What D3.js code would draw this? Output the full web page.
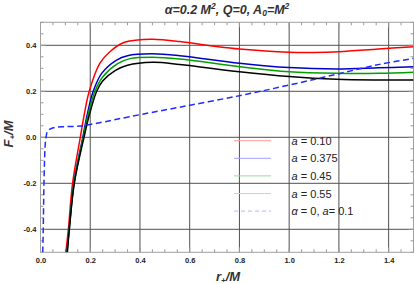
<!DOCTYPE html>
<html>
<head>
<meta charset="utf-8">
<script src="https://cdn.jsdelivr.net/npm/d3@7"></script>
<style>
  body { margin: 0; background: #fff; }
  svg { display: block; font-family: 'Liberation Sans', Arial, sans-serif; }
  .tick text { font-size: 7.5px; font-weight: bold; fill: #222; }
</style>
</head>
<body>
<script>
let labels = ['a = 0.10', 'a = 0.375', 'a = 0.45', 'a = 0.55', 'α = 0, a= 0.1']
let colors = ['#ff0000', '#0000c8', '#00a000', '#000000', '#1f2cff']
let legendColors = ['#ff9c9c', '#a3a3ff', '#9ed69e', '#cfcfcf', '#b0b4ff']

// r+ / M values and F+ / M values
let redR = [0.102, 0.112, 0.129, 0.16, 0.176, 0.196, 0.239, 0.279, 0.333, 0.39, 0.45, 0.56, 0.7, 0.8, 1.0, 1.1, 1.2, 1.36, 1.5]
let redF = [-0.5, -0.4, -0.2, 0.0, 0.1, 0.2, 0.322, 0.372, 0.411, 0.423, 0.426, 0.416, 0.396, 0.384, 0.370, 0.369, 0.372, 0.384, 0.394]

let blueR = [0.106, 0.115, 0.134, 0.170, 0.188, 0.212, 0.246, 0.306, 0.35, 0.447, 0.56, 0.8, 1.0, 1.19, 1.36, 1.5]
let blueF = [-0.5, -0.4, -0.2, 0.0, 0.1, 0.2, 0.278, 0.336, 0.355, 0.363, 0.355, 0.322, 0.303, 0.297, 0.302, 0.307]

let greenR = [0.107, 0.1155, 0.135, 0.172, 0.192, 0.219, 0.25, 0.31, 0.36, 0.45, 0.56, 0.8, 1.0, 1.19, 1.36, 1.5]
let greenF = [-0.5, -0.4, -0.2, 0.0, 0.1, 0.2, 0.262, 0.32, 0.342, 0.348, 0.340, 0.307, 0.285, 0.278, 0.278, 0.283]

let blackR = [0.108, 0.116, 0.136, 0.175, 0.197, 0.226, 0.25, 0.30, 0.35, 0.45, 0.56, 0.8, 1.0, 1.19, 1.36, 1.5]
let blackF = [-0.5, -0.4, -0.2, 0.0, 0.1, 0.2, 0.245, 0.29, 0.313, 0.326, 0.317, 0.285, 0.264, 0.252, 0.249, 0.249]

let dashR = [0.009, 0.011, 0.014, 0.018, 0.022, 0.028, 0.038, 0.058, 0.1, 0.159, 0.2, 0.26, 0.36, 0.56, 0.8, 1.0, 1.19, 1.363, 1.5]
let dashF = [-0.5, -0.4, -0.2, -0.05, 0.0, 0.025, 0.036, 0.043, 0.046, 0.049, 0.056, 0.068, 0.090, 0.131, 0.181, 0.227, 0.274, 0.317, 0.343]

let xTicks = [0.0, 0.2, 0.4, 0.6, 0.8, 1.0, 1.2, 1.4]
let yTicks = [-0.4, -0.2, 0.0, 0.2, 0.4]

let series = [
  { r: redR, f: redF },
  { r: blueR, f: blueF },
  { r: greenR, f: greenF },
  { r: blackR, f: blackF },
  { r: dashR, f: dashF, dashed: true }
]

let margins = { top: 22.3, right: 1.5, bottom: 31.7, left: 40.5 }
let W = 415, H = 284
let width = W - margins.left - margins.right
let height = H - margins.top - margins.bottom

let x = d3.scaleLinear().domain([0, 1.5]).range([0, width])
let y = d3.scaleLinear().domain([-0.5, 0.5]).range([height, 0])

let svg = d3.select('body').append('svg')
    .attr('width', W)
    .attr('height', H)

let g = svg.append('g')
    .attr('transform', 'translate(' + [margins.left, margins.top] + ')')

g.append('clipPath').attr('id', 'clip')
  .append('rect').attr('width', width).attr('height', height)

// grid
g.append('g').selectAll('line')
    .data(xTicks.filter(d => d > 0))
  .enter().append('line')
    .attr('x1', x).attr('x2', x)
    .attr('y1', 0).attr('y2', height)
    .attr('stroke', '#505050').attr('stroke-width', 1)

g.append('g').selectAll('line')
    .data(yTicks)
  .enter().append('line')
    .attr('x1', 0).attr('x2', width)
    .attr('y1', y).attr('y2', y)
    .attr('stroke', '#505050').attr('stroke-width', 1)

// tick labels
let bottom = g.append('g')
    .attr('transform', 'translate(0,' + height + ')')
    .call(d3.axisBottom(x).tickValues(xTicks).tickSize(0).tickPadding(5)
      .tickFormat(d => d.toFixed(1)))
bottom.select('.domain').remove()

let left = g.append('g')
    .call(d3.axisLeft(y).tickValues(yTicks).tickSize(0).tickPadding(4)
      .tickFormat(d => d.toFixed(1)))
left.select('.domain').remove()

// frame ticks, inside on all four sides
let minorX = d3.range(0, 1.5001, 0.05)
let minorY = d3.range(-0.5, 0.5001, 0.05)
let isMajorX = d => xTicks.some(t => Math.abs(t - d) < 1e-6)
let isMajorY = d => yTicks.some(t => Math.abs(t - d) < 1e-6)

let tk = g.append('g').attr('stroke', '#9a9a9a').attr('stroke-width', 1)
tk.selectAll('.tb').data(minorX).enter().append('line')
    .attr('x1', x).attr('x2', x)
    .attr('y1', height).attr('y2', d => height - (isMajorX(d) ? 5 : 3))
tk.selectAll('.tt').data(minorX).enter().append('line')
    .attr('x1', x).attr('x2', x)
    .attr('y1', 0).attr('y2', d => isMajorX(d) ? 5 : 3)
tk.selectAll('.tl').data(minorY).enter().append('line')
    .attr('y1', y).attr('y2', y)
    .attr('x1', 0).attr('x2', d => isMajorY(d) ? 5 : 3)
tk.selectAll('.tr').data(minorY).enter().append('line')
    .attr('y1', y).attr('y2', y)
    .attr('x1', width).attr('x2', d => width - (isMajorY(d) ? 5 : 3))

g.append('rect')
    .attr('width', width).attr('height', height)
    .attr('fill', 'none').attr('stroke', '#a0a0a0').attr('stroke-width', 1)

// curves
let line = d3.line()
  .x(d => x(d[0]))
  .y(d => y(d[1]))
  .curve(d3.curveCatmullRom.alpha(0.5))

let curves = g.append('g').attr('clip-path', 'url(#clip)')
series.forEach((s, i) => {
  curves.append('path')
    .attr('d', line(s.r.map((r, j) => [r, s.f[j]])))
    .attr('fill', 'none')
    .attr('stroke', colors[i])
    .attr('stroke-width', 1.5)
    .attr('stroke-dasharray', s.dashed ? '6,3.5' : null)
})

// legend
let legend = svg.append('g')
    .attr('transform', 'translate(234,140.7)')

let item = legend.selectAll('g')
    .data(labels)
  .enter().append('g')
    .attr('transform', (d, i) => 'translate(0,' + i * 17.6 + ')')

item.append('line')
    .attr('x1', 0).attr('x2', 37)
    .attr('stroke', (d, i) => legendColors[i])
    .attr('stroke-width', 1)
    .attr('stroke-dasharray', (d, i) => series[i].dashed ? '4,3' : null)

let lt = item.append('text')
    .attr('x', 57.5).attr('y', 4)
    .attr('font-size', 11)
    .attr('fill', '#222')

lt.each(function(d) {
  let t = d3.select(this)
  if (d.startsWith('α')) {
    t.append('tspan').attr('font-style', 'italic').text('α')
    t.append('tspan').text(' = 0, ')
    t.append('tspan').attr('font-style', 'italic').text('a')
    t.append('tspan').text('= 0.1')
  } else {
    t.append('tspan').attr('font-style', 'italic').text('a')
    t.append('tspan').text(d.slice(1))
  }
})

// title
let title = svg.append('text')
    .attr('x', 227).attr('y', 13.5)
    .attr('text-anchor', 'middle')
    .attr('font-size', 12.5)
    .attr('font-weight', 'bold')
    .attr('font-style', 'italic')
    .attr('fill', '#333')
title.append('tspan').text('α=0.2 M')
title.append('tspan').attr('font-size', 8.5).attr('dy', -4.5).text('2')
title.append('tspan').attr('dy', 4.5).text(', Q=0, A')
title.append('tspan').attr('font-size', 8.5).attr('dy', 2).text('0')
title.append('tspan').attr('dy', -2).text('=M')
title.append('tspan').attr('font-size', 8.5).attr('dy', -4.5).text('2')

// axis labels
let xl = svg.append('text')
    .attr('x', 228).attr('y', 281)
    .attr('text-anchor', 'middle')
    .attr('font-size', 13)
    .attr('font-weight', 'bold')
    .attr('font-style', 'italic')
    .attr('fill', '#333')
xl.append('tspan').text('r')
xl.append('tspan').attr('font-size', 8).attr('dy', 2).text('+')
xl.append('tspan').attr('dy', -2).text('/M')

let yl = svg.append('text')
    .attr('transform', 'translate(13,134) rotate(-90)')
    .attr('text-anchor', 'middle')
    .attr('font-size', 13)
    .attr('font-weight', 'bold')
    .attr('font-style', 'italic')
    .attr('fill', '#333')
yl.append('tspan').text('F')
yl.append('tspan').attr('font-size', 8).attr('dy', 2).text('+')
yl.append('tspan').attr('dy', -2).text('/M')
</script>
</body>
</html>
